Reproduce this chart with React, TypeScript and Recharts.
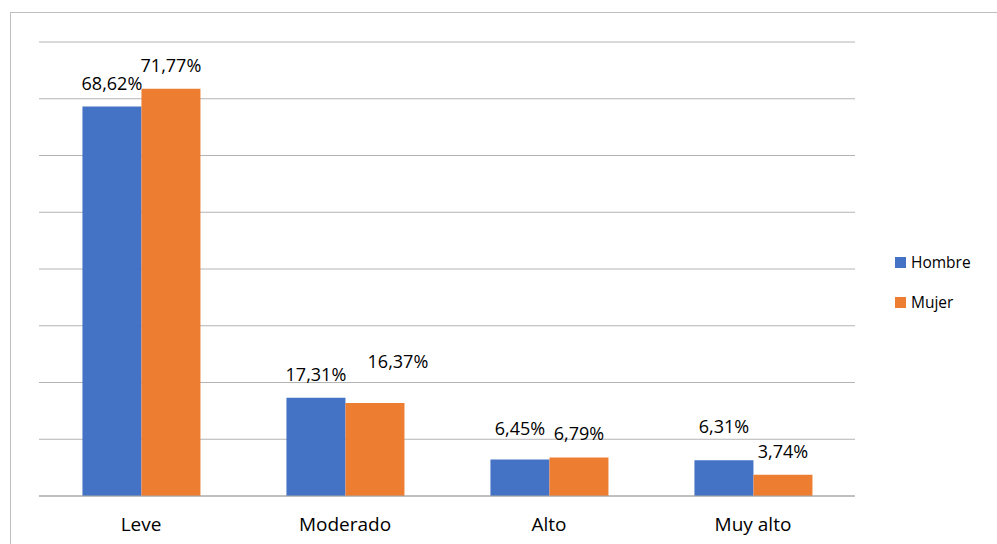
import { BarChart, Bar, XAxis, YAxis, CartesianGrid, LabelList } from "recharts";

const categories = ["Leve", "Moderado", "Alto", "Muy alto"];
const hombre = [68.62, 17.31, 6.45, 6.31];
const mujer = [71.77, 16.37, 6.79, 3.74];
const yTicks = [0, 10, 20, 30, 40, 50, 60, 70, 80];
const edgeTicks = [0, 1, 2, 3, 4];

const data = categories.map((cat, i) => ({ cat, hombre: hombre[i], mujer: mujer[i] }));

const FONT = "'Open Sans', 'DejaVu Sans', sans-serif";
const BLUE = "#4472C4";
const ORANGE = "#ED7D31";

// labels moved by hand in the original
const nudges: Record<string, Record<number, [number, number]>> = {
  hombre: { 2: [0, -7], 3: [0, -10] },
  mujer: { 1: [23, -18] },
};

const fmt = (v: number) => v.toFixed(2).replace(".", ",") + "%";

const makeLabel = (series: string) => (props: any) => {
  const { x, y, width, value, index } = props;
  const [dx, dy] = nudges[series][index] || [0, 0];
  return (
    <text
      x={x + width / 2 + dx}
      y={y - 17 + dy}
      textAnchor="middle"
      fontSize={18}
      fontFamily={FONT}
      fill="#000"
    >
      {fmt(value)}
    </text>
  );
};

function LegendItem({ color, label }: { color: string; label: string }) {
  return (
    <div style={{ display: "flex", alignItems: "center", height: 20, marginBottom: 20 }}>
      <span style={{ width: 11, height: 11, background: color, display: "inline-block", marginRight: 5 }} />
      <span style={{ fontSize: 15.5, fontFamily: FONT, color: "#000" }}>{label}</span>
    </div>
  );
}

export default function App() {
  return (
    <div style={{ position: "fixed", left: 0, top: 0, width: 997, height: 544, overflow: "hidden", background: "#fff" }}>
      <div
        style={{
          position: "absolute",
          left: 10,
          top: 12,
          width: 1000,
          height: 600,
          border: "1px solid #bfbfbf",
        }}
      />
      <div style={{ position: "absolute", left: 0, top: 0 }}>
        <BarChart
          width={997}
          height={544}
          data={data}
          margin={{ top: 42, right: 142, bottom: 18, left: 39 }}
          barCategoryGap="21.3%"
          barGap={0}
        >
          <CartesianGrid vertical={false} stroke="#b4b4b4" />
          <YAxis hide domain={[0, 80]} ticks={yTicks} />
          <XAxis
            xAxisId="a-edge"
            type="number"
            domain={[0, 4]}
            ticks={edgeTicks}
            height={15}
            tick={false}
            tickSize={6}
            stroke="#a6a6a6"
            allowDataOverflow
          />
          <XAxis
            xAxisId="b-cat"
            dataKey="cat"
            height={15}
            axisLine={false}
            tickLine={false}
            tickSize={0}
            tickMargin={7}
            tick={{ fontSize: 19, fontFamily: FONT, fill: "#000" }}
          />
          <Bar xAxisId="b-cat" dataKey="hombre" fill={BLUE} isAnimationActive={false}>
            <LabelList dataKey="hombre" content={makeLabel("hombre")} />
          </Bar>
          <Bar xAxisId="b-cat" dataKey="mujer" fill={ORANGE} isAnimationActive={false}>
            <LabelList dataKey="mujer" content={makeLabel("mujer")} />
          </Bar>
        </BarChart>
      </div>
      <div style={{ position: "absolute", left: 895, top: 252 }}>
        <LegendItem color={BLUE} label="Hombre" />
        <LegendItem color={ORANGE} label="Mujer" />
      </div>
    </div>
  );
}
